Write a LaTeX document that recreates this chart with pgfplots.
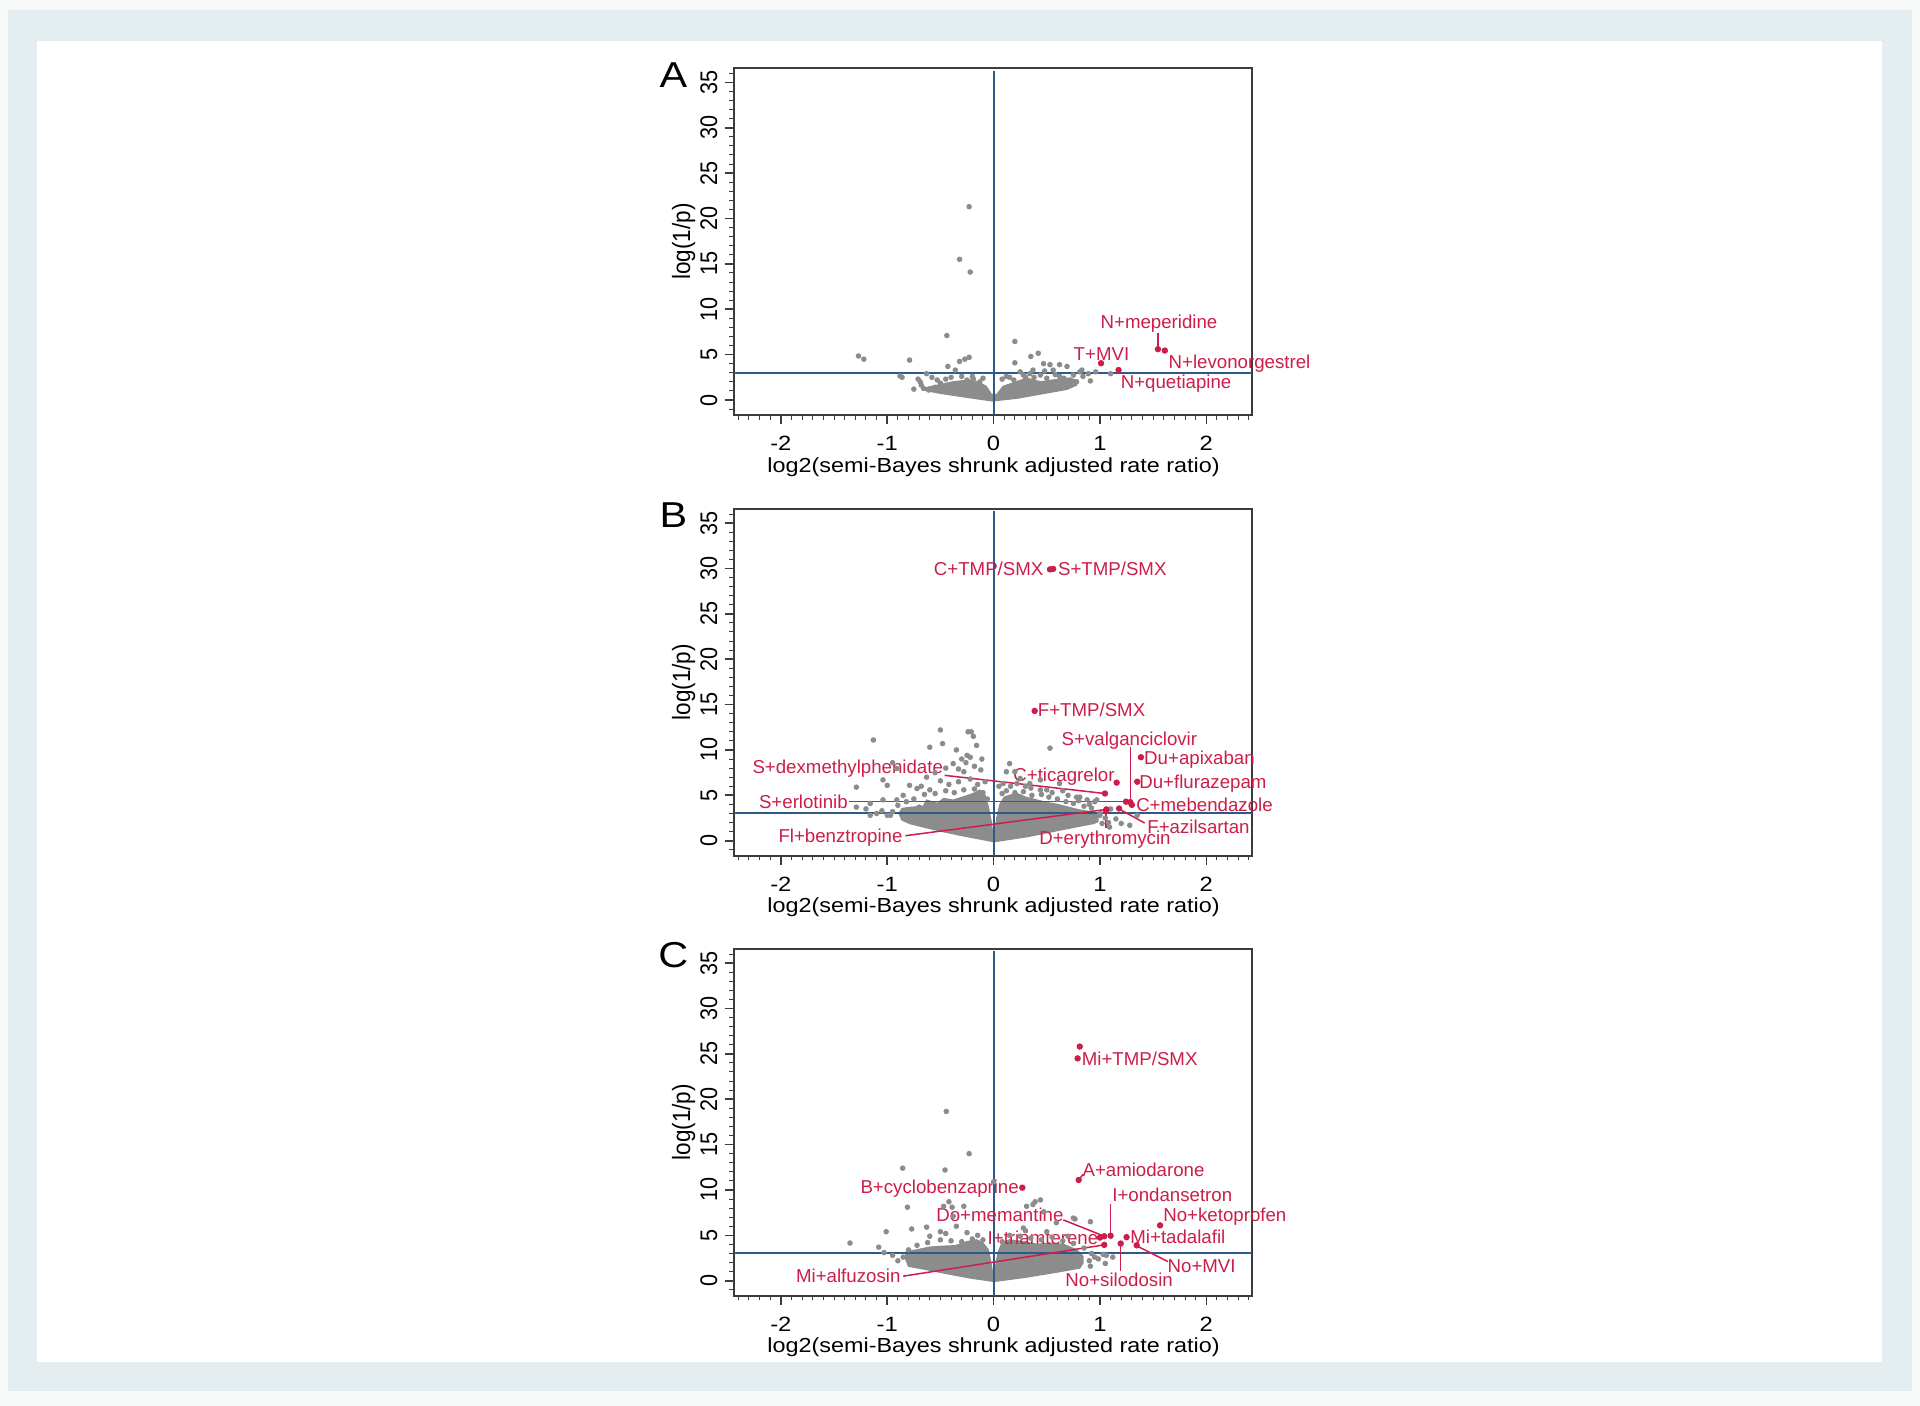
\documentclass[border=0pt]{standalone}
\usepackage{pgfplots}
\pgfplotsset{compat=1.18}
\usepackage{fontspec}
\setmainfont{Liberation Sans}
\newfontfamily\hf[FakeStretch=1.15]{Liberation Sans}
\newfontfamily\vf[FakeStretch=0.9]{Liberation Sans}
\newfontfamily\lf{Liberation Sans}
\definecolor{bgout}{RGB}{248,250,250}
\definecolor{bgband}{RGB}{228,238,240}
\definecolor{lab}{RGB}{204,30,74}
\definecolor{ptgrey}{RGB}{140,140,140}
\definecolor{refblue}{RGB}{44,90,140}
\definecolor{axcol}{RGB}{60,60,60}
\newcommand{\labf}{\lf\fontsize{5.6}{6}\selectfont}
\newcommand{\xtf}{\hf\fontsize{6.2}{7}\selectfont}
\newcommand{\xlf}{\hf\fontsize{6.1}{7}\selectfont}
\newcommand{\ytf}{\vf\fontsize{7.2}{8}\selectfont}
\newcommand{\ylf}{\vf\fontsize{7.5}{8}\selectfont}
\newcommand{\pf}{\hf\fontsize{10.8}{11}\selectfont}
\tikzset{lbl/.style={text=lab, font=\labf, inner sep=0pt, yshift=1.0pt}}
\pgfplotsset{
  vplot/.style={
    anchor=south west,
    width=155.36pt, height=104.0pt, scale only axis,
    xmin=-2.443, xmax=2.426, ymin=-1.65, ymax=36.55,
    axis line style={draw=axcol, line width=0.6pt},
    tick align=outside, tick pos=left,
    xtick={-2,-1,0,1,2}, ytick={0,5,10,15,20,25,30,35},
    minor xtick={-2.4,-2.3,...,2.45},
    minor ytick={-1,0,...,36},
    major tick length=2.7pt, minor tick length=1.4pt,
    major tick style={draw=axcol, line width=0.5pt},
    minor tick style={draw=axcol, line width=0.3pt},
    xticklabels={}, yticklabels={},
    clip=false,
  },
  gpts/.style={only marks, mark=*, mark size=0.62pt, color=ptgrey},
  blob/.style={draw=ptgrey, fill=ptgrey, line width=0.4pt},
  rpts/.style={only marks, mark=*, mark size=0.75pt, color=lab},
  rline/.style={lab, line width=0.45pt},
  bline/.style={refblue, line width=0.6pt},
}
\newcommand{\frameparts}[1]{%
  \addplot[bline] coordinates {(-2.443,3) (2.426,3)};
  \addplot[bline] coordinates {(0,-1.65) (0,36.3)};
  \pgfplotsinvokeforeach{-2,-1,0,1,2}{\node[anchor=base, font=\xtf, inner sep=0pt] at (axis cs:##1,-5.61) {##1};}
  \pgfplotsinvokeforeach{0,5,10,15,20,25,30,35}{\node[rotate=90, anchor=base, font=\ytf, inner sep=0pt] at (axis cs:-2.60,##1) {##1};}
  \node[rotate=90, anchor=center, font=\ylf, inner sep=0pt] at (axis cs:-2.915,17.47) {log(1/p)};
  \node[anchor=base, font=\xlf, inner sep=0pt] at (axis cs:0,-7.95) {log2(semi-Bayes shrunk adjusted rate ratio)};
  \node[anchor=center, font=\pf, inner sep=0pt] at (axis cs:-3.01,35.85) {#1};
}
\begin{document}
\begin{tikzpicture}
\fill[bgout] (0,0) rectangle (576pt,421.8pt);
\fill[bgband] (2.4pt,4.5pt) rectangle (573.6pt,418.8pt);
\fill[white] (11.1pt,13.2pt) rectangle (564.5pt,409.5pt);

% ---------------- Panel A ----------------
\begin{axis}[vplot, at={(220.125pt,297.3pt)}]
\addplot[blob] coordinates {(-0.66,1.1) (-0.5,0.74) (-0.25,0.3) (-0.01,-0.1) (0.22,0.2) (0.44,0.66) (0.69,1.18) (0.78,1.65) (0.78,2.2) (0.7,2.4) (0.56,2.2) (0.44,2.0) (0.31,2.4) (0.19,1.9) (0.09,1.5) (0.03,0.6) (-0.02,0.6) (-0.07,1.5) (-0.13,1.9) (-0.22,2.2) (-0.38,2.0) (-0.5,1.7) (-0.62,1.4)} -- cycle;
\addplot[gpts] coordinates {(-0.23,21.3) (-0.32,15.5) (-0.22,14.1) (-0.44,7.1) (0.2,6.45) (-1.27,4.85) (-1.22,4.5) (-0.79,4.4) (-0.32,4.25) (-0.27,4.5) (-0.23,4.7) (0.2,4.1) (0.35,4.8) (0.42,5.15) (0.47,4.0) (0.53,3.9) (0.62,3.9) (0.48,3.2) (0.56,3.3) (0.37,3.3) (0.34,2.9) (-0.43,3.7) (-0.36,3.3) (-0.88,2.65) (-0.86,2.5) (-0.71,2.3) (-0.69,2.0) (-0.63,2.9) (-0.66,1.3) (-0.61,1.1) (-0.68,1.65) (0.81,3.1) (0.89,2.9) (0.84,2.6) (0.75,2.75) (0.91,2.1) (0.69,3.7) (0.25,3.1) (0.28,2.75) (-0.53,2.2) (-0.5,1.85) (-0.25,2.2) (-0.19,2.3) (-0.13,2.0) (0.12,2.6) (0.19,2.2) (0.44,2.75) (0.5,2.4) (0.62,2.6) (0.72,2.2) (1.1,2.9) (0.96,3.1) (0.83,3.3) (-0.4,2.5) (-0.3,2.6) (-0.1,2.4) (0.08,2.3) (0.3,2.5) (0.58,2.8) (0.78,2.0) (-0.55,1.4) (-0.75,1.2) (-0.58,2.5) (-0.45,2.3) (-0.2,2.6) (0.15,2.5) (0.38,2.5) (0.66,2.4)};
\frameparts{A}
\addplot[rline] coordinates {(1.545,7.4) (1.545,5.8)};
\addplot[rpts] coordinates {(1.545,5.6) (1.61,5.45) (1.01,4.05) (1.175,3.3)};
\node[lbl, anchor=mid west] at (axis cs:1.0,8.53) {N+meperidine};
\node[lbl, anchor=mid west] at (axis cs:1.64,4.12) {N+levonorgestrel};
\node[lbl, anchor=mid west] at (axis cs:0.747,4.96) {T+MVI};
\node[lbl, anchor=mid west] at (axis cs:1.19,1.84) {N+quetiapine};
\end{axis}

% ---------------- Panel B ----------------
\begin{axis}[vplot, at={(220.125pt,165.09pt)}]
\addplot[blob] coordinates {(0,-0.1) (-0.16,0.26) (-0.32,0.62) (-0.47,0.99) (-0.63,1.43) (-0.79,1.9) (-0.86,2.27) (-0.89,3.0) (-0.86,3.55) (-0.79,3.66) (-0.66,3.8) (-0.63,4.47) (-0.53,4.1) (-0.47,4.65) (-0.38,4.47) (-0.28,4.84) (-0.19,5.2) (-0.13,5.57) (-0.08,5.0) (-0.05,3.74) (-0.02,1.9) (-0.01,0.8)} -- cycle;
\addplot[blob] coordinates {(0.01,-0.1) (0.15,0.15) (0.31,0.44) (0.47,0.8) (0.62,1.17) (0.78,1.54) (0.94,1.9) (0.98,2.1) (0.98,2.8) (0.9,3.2) (0.8,3.4) (0.7,3.7) (0.6,4.0) (0.5,4.2) (0.4,4.5) (0.3,4.8) (0.22,5.2) (0.15,5.0) (0.1,4.8) (0.06,4.0) (0.03,2.5) (0.015,1.0)} -- cycle;
\addplot[gpts] coordinates {(-0.5,12.2) (-0.24,12.0) (-0.21,12.0) (-1.13,11.1) (-0.48,10.7) (-0.6,10.3) (-0.19,11.5) (-0.16,10.5) (-0.35,10.0) (-0.25,9.4) (-0.22,9.2) (-0.11,9.0) (-0.95,8.6) (-0.91,7.95) (-0.63,7.0) (-0.38,8.5) (-0.33,7.9) (-0.28,7.6) (-1.29,5.9) (-1.04,6.7) (-1.0,6.1) (-0.79,6.1) (-0.72,5.75) (-1.16,4.1) (-1.29,3.7) (-1.1,3.0) (-1.04,4.5) (-0.91,4.5) (-0.97,2.8) (-1.16,2.8) (0.15,8.5) (0.2,7.6) (0.53,10.2) (0.09,6.3) (0.25,6.85) (0.34,6.3) (0.44,6.7) (0.62,6.3) (0.78,4.8) (0.97,4.5) (0.12,7.6) (0.44,5.6) (0.81,4.8) (0.88,4.5) (1.28,1.7) (1.35,2.8) (1.0,2.8) (1.09,1.5)
 (-0.95,3.2) (-0.9,3.9) (-0.82,4.3) (-0.75,4.6) (-0.65,5.1) (-0.55,5.2) (-0.45,5.5) (-0.37,5.3) (-0.28,5.6) (-0.18,5.7) (-0.1,5.3) (-0.06,4.6) (-0.6,5.6) (-0.42,6.2) (-0.33,6.5) (-0.22,6.8) (-0.15,6.2) (-0.5,6.6) (-0.26,8.6) (-0.12,7.8) (-0.7,3.7) (-1.0,2.8) (0.08,5.2) (0.12,5.5) (0.2,5.3) (0.28,5.4) (0.36,5.0) (0.45,5.1) (0.52,4.8) (0.6,4.6) (0.68,4.3) (0.75,4.1) (0.85,3.8) (0.92,3.6) (1.0,3.0) (1.05,2.5) (1.08,2.0) (0.16,6.0) (0.3,6.0) (0.5,5.6) (0.7,5.0) (0.95,4.3) (1.1,3.5) (1.02,1.9)
 (-0.85,5.0) (-0.68,6.0) (-0.55,7.5) (-0.45,8.0) (-0.3,9.0) (-0.18,8.2) (-0.08,6.5) (-1.2,3.5) (-1.05,3.3) (0.05,6.0) (0.22,6.3) (0.35,5.8) (0.55,5.3) (0.65,5.5) (0.8,4.4) (0.9,4.0) (1.15,2.4) (1.2,1.9)};
\frameparts{B}
\addplot[rline] coordinates {(-0.46,7.2) (1.047,5.2)};
\addplot[rline] coordinates {(-1.36,4.3) (1.245,4.3)};
\addplot[rline] coordinates {(-0.83,0.55) (1.06,3.45)};
\addplot[rline] coordinates {(1.285,10.3) (1.285,4.3)};
\addplot[rline] coordinates {(1.057,3.3) (1.057,1.35)};
\addplot[rline] coordinates {(1.18,3.5) (1.42,1.95)};
\addplot[rpts] coordinates {(0.53,29.9) (0.56,29.95) (0.386,14.3) (1.385,9.2) (1.35,6.5) (1.157,6.4) (1.047,5.2) (1.245,4.3) (1.285,4.25) (1.3,3.95) (1.18,3.55) (1.057,3.3) (1.06,3.45)};
\node[lbl, anchor=mid east] at (axis cs:0.474,29.85) {C+TMP/SMX};
\node[lbl, anchor=mid west] at (axis cs:0.60,29.85) {S+TMP/SMX};
\node[lbl, anchor=mid west] at (axis cs:0.41,14.3) {F+TMP/SMX};
\node[lbl, anchor=mid west] at (axis cs:0.634,11.1) {S+valganciclovir};
\node[lbl, anchor=mid west] at (axis cs:1.41,9.05) {Du+apixaban};
\node[lbl, anchor=mid west] at (axis cs:1.364,6.4) {Du+flurazepam};
\node[lbl, anchor=mid west] at (axis cs:0.18,7.14) {C+ticagrelor};
\node[lbl, anchor=mid east] at (axis cs:-0.47,8.0) {S+dexmethylphenidate};
\node[lbl, anchor=mid east] at (axis cs:-1.365,4.15) {S+erlotinib};
\node[lbl, anchor=mid west] at (axis cs:1.335,3.8) {C+mebendazole};
\node[lbl, anchor=mid west] at (axis cs:1.44,1.36) {F+azilsartan};
\node[lbl, anchor=mid east] at (axis cs:-0.85,0.44) {Fl+benztropine};
\node[lbl, anchor=mid west] at (axis cs:0.424,0.15) {D+erythromycin};
\end{axis}

% ---------------- Panel C ----------------
\begin{axis}[vplot, at={(220.125pt,33.09pt)}]
\addplot[blob] coordinates {(0,-0.07) (-0.22,0.3) (-0.47,0.85) (-0.66,1.3) (-0.8,1.6) (-0.83,2.5) (-0.82,3.2) (-0.72,3.4) (-0.6,3.7) (-0.47,3.8) (-0.36,3.85) (-0.25,4.3) (-0.16,4.5) (-0.1,4.15) (-0.05,3.4) (-0.025,1.95) (-0.01,0.85)} -- cycle;
\addplot[blob] coordinates {(0.01,-0.07) (0.31,0.4) (0.62,1.0) (0.81,1.4) (0.84,1.95) (0.84,2.7) (0.78,3.4) (0.66,4.0) (0.53,4.15) (0.41,4.0) (0.28,4.3) (0.15,4.5) (0.08,4.15) (0.04,3.05) (0.02,1.6)} -- cycle;
\addplot[gpts] coordinates {(-0.445,18.65) (-0.23,14.0) (-0.855,12.4) (-0.457,12.2) (0.0,10.9) (-0.81,8.1) (-0.42,8.7) (-0.47,8.2) (-0.28,8.2) (-0.39,8.1) (-1.01,5.4) (-1.35,4.15) (-1.08,3.7) (-0.77,5.7) (-0.63,5.9) (-0.5,5.4) (-0.35,6.0) (-0.38,7.1) (0.28,5.8) (0.39,8.7) (0.44,8.9) (0.31,8.2) (0.37,8.4) (0.75,6.9) (0.91,6.5) (0.59,6.4) (0.47,7.6) (1.03,2.9) (0.91,1.6) (1.05,1.9) (0.765,6.8) (1.06,2.8) (0.985,2.4) (1.12,2.6)
 (-0.85,2.6) (-0.8,3.4) (-0.72,3.9) (-0.62,4.2) (-0.5,4.5) (-0.4,4.4) (-0.3,4.3) (-0.2,4.6) (-0.1,4.5) (-0.6,4.9) (-0.45,5.2) (-0.25,5.3) (-0.15,5.0) (-0.9,2.2) (-1.03,3.1) (-0.95,2.8) (0.08,4.3) (0.15,5.0) (0.25,4.9) (0.35,4.7) (0.45,4.5) (0.55,4.8) (0.65,4.4) (0.75,4.1) (0.85,3.6) (0.92,3.0) (0.3,5.5) (0.5,5.4) (0.7,4.9) (0.9,2.2) (0.95,2.6)};
\frameparts{C}
\addplot[rline] coordinates {(0.656,6.7) (1.03,4.95)};
\addplot[rline] coordinates {(-0.85,0.5) (1.04,3.95)};
\addplot[rline] coordinates {(1.10,8.5) (1.10,5.1)};
\addplot[rline] coordinates {(1.195,4.0) (1.195,1.1)};
\addplot[rline] coordinates {(1.345,3.85) (1.64,2.1)};
\addplot[rline] coordinates {(0.80,11.1) (0.84,11.7)};
\addplot[rpts] coordinates {(0.81,25.8) (0.79,24.5) (0.80,11.1) (0.27,10.25) (1.04,4.9) (1.0,4.75) (1.10,4.95) (1.04,3.95) (1.195,4.1) (1.25,4.8) (1.345,3.9) (1.565,6.1)};
\node[lbl, anchor=mid west] at (axis cs:0.823,24.3) {Mi+TMP/SMX};
\node[lbl, anchor=mid west] at (axis cs:0.83,12.05) {A+amiodarone};
\node[lbl, anchor=mid east] at (axis cs:0.243,10.2) {B+cyclobenzaprine};
\node[lbl, anchor=mid west] at (axis cs:1.11,9.3) {I+ondansetron};
\node[lbl, anchor=mid west] at (axis cs:1.59,7.1) {No+ketoprofen};
\node[lbl, anchor=mid east] at (axis cs:0.663,7.1) {Do+memantine};
\node[lbl, anchor=mid east] at (axis cs:0.99,4.6) {I+triamterene};
\node[lbl, anchor=mid west] at (axis cs:1.28,4.75) {Mi+tadalafil};
\node[lbl, anchor=mid east] at (axis cs:-0.87,0.4) {Mi+alfuzosin};
\node[lbl, anchor=mid west] at (axis cs:1.63,1.5) {No+MVI};
\node[lbl, anchor=mid] at (axis cs:1.18,-0.07) {No+silodosin};
\end{axis}
\end{tikzpicture}
\end{document}
